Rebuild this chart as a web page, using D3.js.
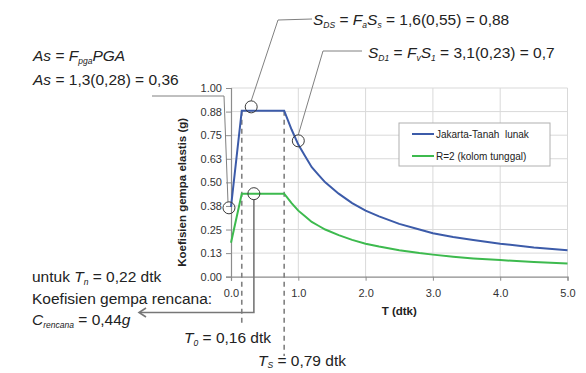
<!DOCTYPE html>
<html>
<head>
<meta charset="utf-8">
<script src="https://cdn.jsdelivr.net/npm/d3@7"></script>
<style>
  body { margin: 0; background: #fff; }
  svg { display: block; font-family: 'Liberation Sans', Arial, sans-serif; }
</style>
</head>
<body>
<svg id="chart" width="586" height="373"></svg>
<script>
// Periods (s) and spectral values
const periods = [0, 0.16, 0.79, 0.9, 1.0, 1.1, 1.2, 1.3, 1.4, 1.6, 1.8, 2.0, 2.2, 2.5, 2.8, 3.0, 3.3, 3.6, 4.0, 4.5, 5.0];
const jakartaLunak = [0.37, 0.88, 0.88, 0.78, 0.70, 0.64, 0.58, 0.54, 0.50, 0.44, 0.39, 0.35, 0.32, 0.28, 0.25, 0.23, 0.21, 0.195, 0.175, 0.155, 0.14];
const kolomTunggal = [0.18, 0.44, 0.44, 0.39, 0.35, 0.32, 0.29, 0.27, 0.25, 0.22, 0.195, 0.175, 0.16, 0.14, 0.125, 0.117, 0.106, 0.097, 0.088, 0.078, 0.07];
const xTicks = [0, 1, 2, 3, 4, 5];
const yTicks = [0, 0.125, 0.25, 0.375, 0.5, 0.625, 0.75, 0.875, 1];
const seriesNames = ['Jakarta-Tanah  lunak', 'R=2 (kolom tunggal)'];
const T0 = 0.16, TS = 0.79;

const BLUE = '#3c5ba9', GREEN = '#3dba4e', GRID = '#d9d9d9', AXIS = '#8c8c8c', ANN = '#808080';

const svg = d3.select('#chart');
const x = d3.scaleLinear().domain([0, 5]).range([231, 567.5]);
const y = d3.scaleLinear().domain([0, 1]).range([276.7, 88]);

// Grid
const grid = svg.append('g');
grid.selectAll('.hg').data(yTicks.slice(1)).enter().append('line')
  .attr('x1', x(0)).attr('x2', x(5))
  .attr('y1', d => y(d)).attr('y2', d => y(d))
  .attr('stroke', GRID).attr('stroke-width', 1);
grid.selectAll('.vg').data(xTicks.slice(1)).enter().append('line')
  .attr('x1', d => x(d)).attr('x2', d => x(d))
  .attr('y1', y(0)).attr('y2', y(1))
  .attr('stroke', GRID).attr('stroke-width', 1);

// Axes
const yAxis = svg.append('g').attr('transform', `translate(${x(0)},0)`)
  .call(d3.axisLeft(y).tickValues(yTicks).tickFormat(d3.format('.2f')).tickSize(5).tickPadding(4));
const xAxis = svg.append('g').attr('transform', `translate(0,${y(0)})`)
  .call(d3.axisBottom(x).tickValues(xTicks).tickFormat(d3.format('.1f')).tickSize(4).tickPadding(9));
[xAxis, yAxis].forEach(a => {
  a.select('.domain').attr('stroke', AXIS).attr('stroke-width', 1.2);
  a.selectAll('.tick line').attr('stroke', AXIS);
  a.selectAll('.tick text').attr('fill', '#333').attr('font-size', 11)
    .attr('font-family', "'Liberation Sans', Arial, sans-serif");
});

svg.append('text').attr('x', x(2.5)).attr('y', 315)
  .attr('text-anchor', 'middle').attr('font-size', 11.5).attr('font-weight', 'bold')
  .attr('fill', '#222').text('T (dtk)');
svg.append('text').attr('transform', `translate(186,${(y(0) + y(1)) / 2 + 10}) rotate(-90)`)
  .attr('text-anchor', 'middle').attr('font-size', 11.5).attr('font-weight', 'bold')
  .attr('fill', '#222').text('Koefisien gempa elastis (g)');

// Dashed period markers
svg.append('line').attr('x1', x(T0)).attr('x2', x(T0)).attr('y1', y(0.88)).attr('y2', 326)
  .attr('stroke', ANN).attr('stroke-width', 1.6).attr('stroke-dasharray', '5,4');
svg.append('line').attr('x1', x(TS)).attr('x2', x(TS)).attr('y1', y(0.88)).attr('y2', 356)
  .attr('stroke', ANN).attr('stroke-width', 1.6).attr('stroke-dasharray', '5,4');

// Series
const line = d3.line().x(d => x(d[0])).y(d => y(d[1]));
[[jakartaLunak, BLUE], [kolomTunggal, GREEN]].forEach(([vals, col]) => {
  svg.append('path').datum(periods.map((t, i) => [t, vals[i]]))
    .attr('d', line).attr('fill', 'none').attr('stroke', col).attr('stroke-width', 2);
});

// Legend
const lg = svg.append('g');
lg.append('rect').attr('x', 399).attr('y', 123).attr('width', 151).attr('height', 43)
  .attr('fill', '#fff').attr('stroke', '#b0b0b0');
[BLUE, GREEN].forEach((col, i) => {
  const ly = 134 + i * 22;
  lg.append('line').attr('x1', 412).attr('x2', 434).attr('y1', ly).attr('y2', ly)
    .attr('stroke', col).attr('stroke-width', 2);
  lg.append('text').attr('x', 436).attr('y', ly + 3.5).attr('font-size', 10)
    .attr('fill', '#222').attr('xml:space', 'preserve').text(seriesNames[i]);
});

// Annotation circles and leaders
const pts = {
  as:  [x(-0.03), y(0.365)],
  sds: [x(0.30), y(0.90)],
  sd1: [x(1.0), y(0.72)],
  c:   [x(0.34), y(0.44)]
};
const ann = svg.append('g').attr('fill', 'none');
ann.append('polyline').attr('points', `152,96 224,96 ${pts.as[0] - 1},${pts.as[1] - 6}`)
  .attr('stroke', ANN);
ann.append('polyline').attr('points', `${pts.sds[0]},${pts.sds[1] - 6} 278,20 312,19`)
  .attr('stroke', ANN);
ann.append('polyline').attr('points', `${pts.sd1[0]},${pts.sd1[1] - 6} 323,51 362,51`)
  .attr('stroke', ANN);
ann.append('polyline').attr('points', `${pts.c[0]},${pts.c[1] + 6} ${pts.c[0]},312.5 140,312.5`)
  .attr('stroke', '#777').attr('stroke-width', 1.6);
ann.append('polyline').attr('points', '146,308 139,312.5 146,317')
  .attr('stroke', '#777').attr('stroke-width', 1.6);
Object.values(pts).forEach(p => {
  ann.append('circle').attr('cx', p[0]).attr('cy', p[1]).attr('r', 6)
    .attr('stroke', '#3a3a3a').attr('stroke-width', 1);
});

// Equation text helper: parts = [text, kind] where kind i = italic, n = normal, s = subscript
function eq(px, py, parts, size, drop) {
  const fs = size || 15.5, dd = drop || 3;
  const t = svg.append('text').attr('x', px).attr('y', py).attr('font-size', fs)
    .attr('fill', '#222').attr('xml:space', 'preserve');
  let down = false;
  parts.forEach(([txt, kind]) => {
    const ts = t.append('tspan').text(txt);
    if (kind === 's') {
      ts.attr('font-size', fs * 0.55).attr('font-style', 'italic');
      if (!down) { ts.attr('dy', dd); down = true; }
    } else {
      if (down) { ts.attr('dy', -dd); down = false; }
      if (kind === 'i') ts.attr('font-style', 'italic');
    }
  });
}

eq(33, 61, [['As', 'i'], [' = ', 'n'], ['F', 'i'], ['pga', 's'], ['PGA', 'i']]);
eq(33, 85, [['As', 'i'], [' = 1,3(0,28) = 0,36', 'n']]);
eq(313, 25, [['S', 'i'], ['DS', 's'], [' = ', 'n'], ['F', 'i'], ['a', 's'], ['S', 'i'], ['s', 's'], [' = 1,6(0,55) = 0,88', 'n']]);
eq(368, 58, [['S', 'i'], ['D1', 's'], [' = ', 'n'], ['F', 'i'], ['v', 's'], ['S', 'i'], ['1', 's'], [' = 3,1(0,23) = 0,7', 'n']]);
eq(32, 282, [['untuk ', 'n'], ['T', 'i'], ['n', 's'], [' = 0,22 dtk', 'n']]);
eq(32, 304, [['Koefisien gempa rencana:', 'n']]);
eq(32, 325, [['C', 'i'], ['rencana', 's'], [' = 0,44', 'n'], ['g', 'i']]);
eq(184, 343, [['T', 'i'], ['0', 's'], [' = 0,16 dtk', 'n']]);
eq(258, 366, [['T', 'i'], ['S', 's'], [' = 0,79 dtk', 'n']], 15.5, 2);
</script>
</body>
</html>
